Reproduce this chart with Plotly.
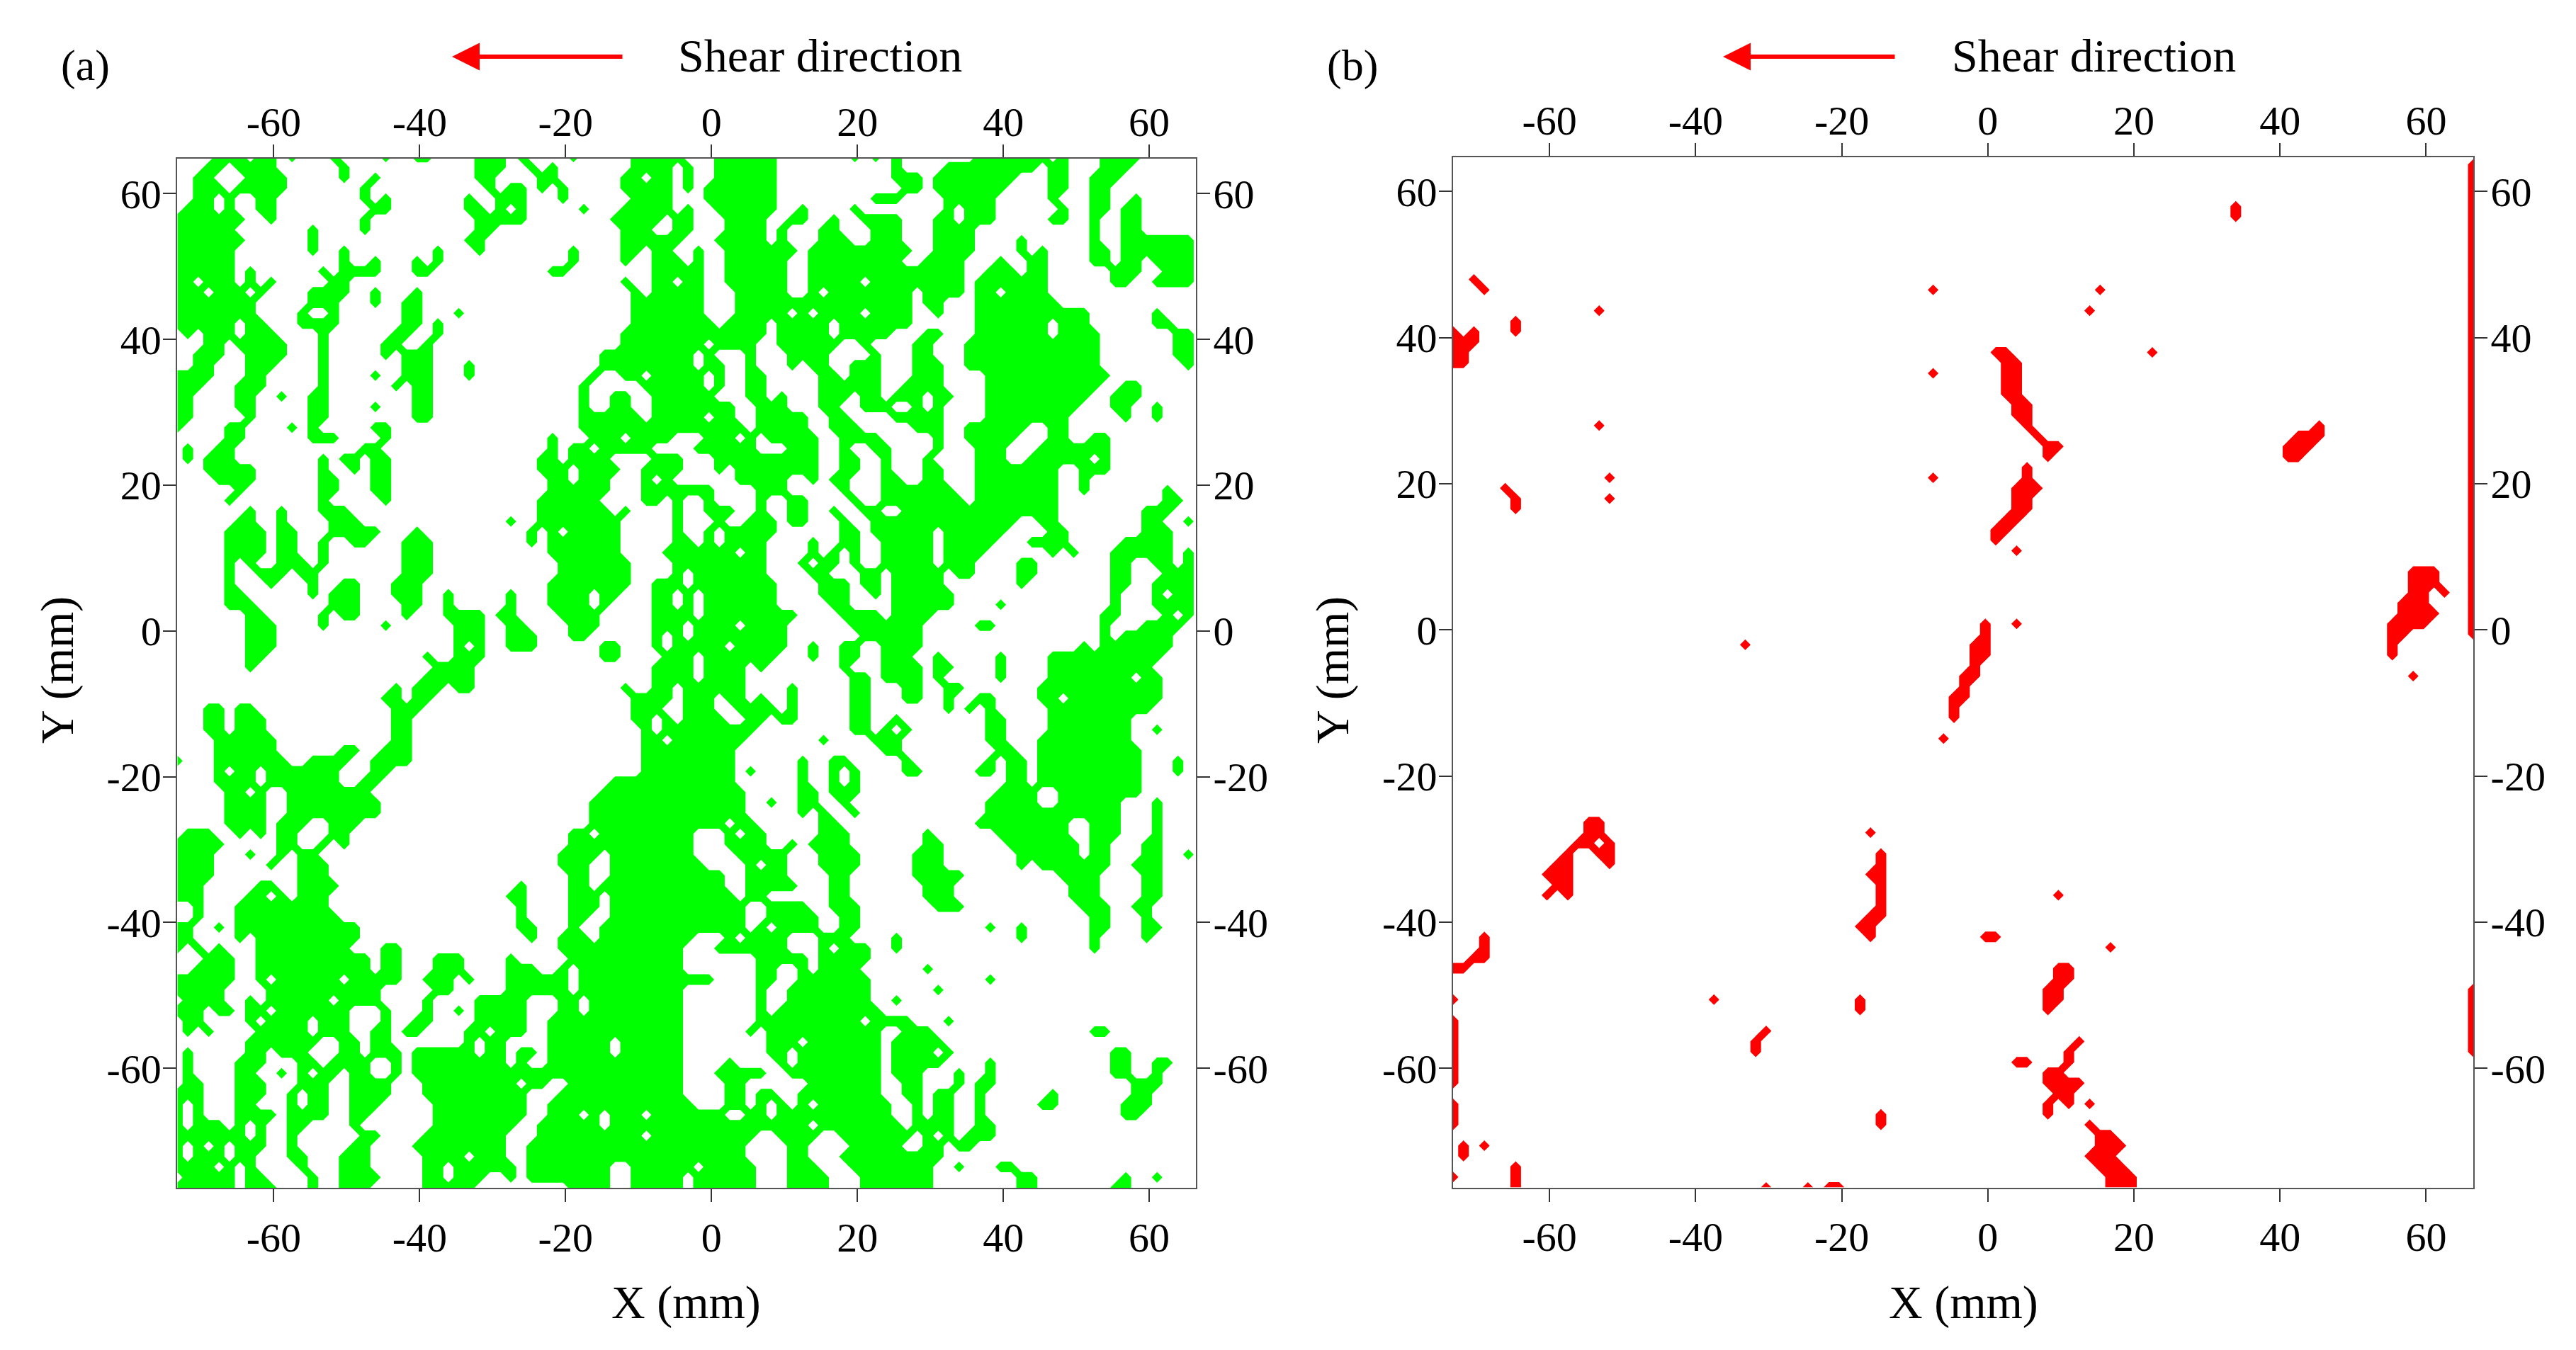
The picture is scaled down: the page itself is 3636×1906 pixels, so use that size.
import plotly.graph_objects as go

W, H = 3636, 1906
STEP = 10 / 7
NX, NY = 99, 100
TICKS = [-60, -40, -20, 0, 20, 40, 60]
TICK_TEXT = ["-60", "-40", "-20", "0", "20", "40", "60"]
X0_A, Y0_A = -73.2, -76.4
X0_B, Y0_B = -73.2, -76.3

# Panel (a): lattice cells above threshold, one string per row, top row first
A_RUNS = [
"4-6 8-9 11 15 20 23-24 29-31 33 38 44-47 48 52-57 65 67 69 77-83 85 89-92",
"3-4 6-9 16 29-31 34 36 44-47 49 52-57 69 74-82 84-85 89-91",
"2-3 7-10 16 19 29-30 35-36 43-44 46-47 49 52-57 69-71 73-80 84-85 88-90",
"2-4 6-10 18 30 32-33 35 37 43-47 49 51-57 70-71 73-79 84-85 88-89",
"2-3 5 8-9 18 20 28 31-33 37 44-47 51-57 67-69 74-78 84 88-89 92",
"1-3 5 8-9 19-20 28-29 31 33 39 43-47 49 52-57 60 65 74 76-78 85 88-89 91-92",
"0-6 9 18 29-33 42-46 48-49 53-56 59-60 63 66-69 73-74 76-78 84-85 88 91-92",
"0-5 13 18 29-30 43-45 48-49 53-56 58 62-63 67-69 73-76 88 91-92",
"0-6 13 28-29 43-48 52-56 58 62-64 67-69 73-76 81 88 91-97",
"0-5 13 16 25 29 38 43-44 46-47 50 53-59 61-70 73-76 81 83 88-89 91-97",
"0-5 16 19 23 25 38 43 46-48 50 53-58 61-69 72-75 79 82-83 88-89 91-92 94-97",
"0-5 7 14 16-19 23-24 36-37 46-50 53-58 61-75 78-80 82-83 90-92 95-97",
"0-1 3-5 7 9 15-16 43 46-47 49-50 53-58 61-65 67-75 77-83 90-91 94-97",
"0-2 4-6 8 13-16 19 23 44 46-50 54-58 61 63-70 72-75 77-78 80-83",
"0-7 13-15 19 22-23 44-50 54-70 72-73 77-84",
"0-7 12 15 22-23 27 44-50 54-58 60 62-65 67-70 73 77-87 94",
"0-5 7-8 12-15 22-23 25 44-51 53-56 58-62 64-70 77-83 85-87 94-95",
"1 3-5 7-9 14 21-22 25 43-56 58-62 64-68 72-73 77-83 85-88 96-97",
"3-4 6-10 14 20-21 24 43-50 52-55 58-63 66 71-72 76-88 96-97",
"2-4 7-10 14 20 22-24 41-49 51 55 59-62 67 71-72 76-88 96-97",
"2-3 7-9 14 22-24 28 41-49 51-52 55 59 61-62 65-67 71-73 76-88 97",
"0-3 7-8 14 19 22-24 28 40 43-44 46-50 52 55-56 62-63 65-67 71-73 78-89",
"0-2 6-8 14 21 23-24 39 45-50 52 55-56 62-67 70-73 78-88 91-92",
"0-1 6-7 10 13-14 23-24 39 42-43 46-51 55-56 58 62-64 66-67 69-71 73-74 78-87 90-92",
"0-1 6-7 13-14 19 23-24 39 42-43 46-53 56-58 62-63 66-68 71 73 78-86 90-91 94",
"0-1 7 13-14 23-24 39-44 46-50 52-53 56-60 63-64 69-73 78-85 91 94",
"0 5-6 11 13 19-20 39-54 56-60 63-65 71-73 76-81 84-85",
"5-6 13-15 20 36 40-42 44-47 51-53 55 57-61 64-67 73 76-80 84-85 88-89",
"1 4-5 18-19 36 38-39 41-45 50-55 59-61 64 67-68 73 77-79 83-89",
"1 3-5 14 16-17 19-20 35-36 38-41 46-48 52-61 64-65 68 72 77-79 82-87 89",
"3-7 14 17 19-20 35-37 39-42 45-48 52 54-61 64-65 68 72-73 77-84 87-89",
"4-7 14-15 19-20 36-37 39-41 45 47 54-58 61 63-64 68-69 72-73 77-84 87",
"6 14-15 19-20 36-41 45-51 56-58 64 68-74 77-84 87 95",
"5 14 20 35-40 45-46 48 51 56 59-60 65 68-75 77-84 95-96",
"7 10 14-16 35-41 43 48 51-53 56 59-60 63 66-67 70-84 93-95",
"6-7 10 15-17 32 35-42 48 52 55-57 59-60 64 67-80 83-84 93-94 97",
"5-8 10-11 15-19 23 34 36 38-42 48 51 53-57 64-65 67-72 74-79 84-85 93-95",
"5-8 10-11 14 17-18 22-24 34 36-42 48-49 51 53-56 61 64-65 68-72 74-78 82-85 91-95",
"5-8 10-11 14 22-24 36-42 47-53 55-56 61 63 65 68-72 74-77 84 86 90-95 97",
"5 7 10-12 14 22-24 37-43 48-56 60 62-63 65 68-72 74-76 81-82 90-91 94-95 97",
"5 8-10 12-13 22-24 37-43 48 50-56 61-62 66-67 69-73 75-76 81-82 90-91 95-97",
"5 9 13 16-17 21-23 36-43 46-48 50-57 62-64 66-67 69-73 81 90-91 94-97",
"5-6 13 15-17 21-23 26 32 36-39 41-42 46-47 49 51-57 62-64 67 69-74 90 94 96-97",
"5-7 15-17 22-23 26 32 36-39 41 46-47 49 51-57 63-64 69-74 79 90 94-97",
"7-8 14 16-17 22 26-29 31-32 37-40 46-49 51-59 64-67 69-72 89-90 95 97",
"7-9 14 20 27-29 32-33 38-40 46-48 50-53 55-58 65-71 77-78 89 93-96",
"7-9 27-29 32-34 38-39 46 48 50-58 66-71 89 91-95",
"7-9 27 29 32-34 41-42 46 48-52 54-58 61 64-65 68-71 87 89-95",
"7-8 24 27-29 41-42 47-49 51-57 61 64-65 68-70 73 79 84-94",
"7 25-28 46-49 51-54 56 64 68-71 73-74 79 84-93",
"24-28 46-49 51-54 65-66 68-71 73 79 84-91 93-94",
"21 23-25 27-28 43 46-47 49-54 59 65-66 70-71 74-75 83-94",
"20-21 23-24 44-47 49-51 53-54 56 59 65-66 70-71 74 77-78 83-84 86-94",
"3-4 6-7 21-23 44-46 49-51 54-57 59 65-66 74 76 78 84-93",
"3-4 6-8 21-22 44-45 47 49-52 55-56 58-59 65-66 69 78-79 84-91",
"3-4 6-8 21-22 45 47-55 65-66 68 70 78-79 84-91 94",
"4-9 21-22 45-46 48-54 62 67-69 78-79 83-91",
"4-9 16-17 20-22 45-53 68-69 79-80 83-92",
"0 4-10 13-16 19-22 45-53 60 63-64 70 78 80-81 83-92 96",
"4 6-7 9-15 19-20 45-53 55 60 63 65 70-71 77-78 80-81 83-92 96",
"4-7 9-15 18-19 42-53 60 63 65 80-81 83-92",
"5-6 8 11-18 41-54 60-61 63-65 79-82 85-92",
"5-8 11-19 40-54 57 60-61 64 78-82 85-90 94",
"5-8 11-19 40-54 60 62 65 78-90 94",
"5-8 10-12 15-17 40-52 54-55 62-63 77-85 88-90 94",
"1-3 6 8 10-11 15-16 38-39 41-49 53 55-56 62-64 72 79-85 88-90 94",
"0-4 10-11 14 16 38-49 53-56 59 61-64 72-73 80-86 88-89 93-94",
"0-3 7 10 12-13 37-40 42-49 54-58 62-65 71-73 81-86 88-89 93-94 97",
"0-3 9 12-14 37-39 42-50 55 57-58 62-65 71-73 81 83-89 92-94",
"0-3 12-14 38-39 42-52 55-58 63-64 71-75 85-88 93-94",
"0-2 8-9 12-15 33 38-39 41-52 55-59 63-64 72-74 86-88 93-94",
"0-2 7-8 10 12-14 32-33 38-40 42-53 55-56 63-64 72-74 86-88 93-94",
"2 6-14 33 38-40 42-54 57-60 63-65 73-75 87-89 92-93",
"2 6-15 33 38-39 42-54 57-61 64-65 88-89 93",
"0-1 4 6-17 33-34 38 41-54 56 58-61 64-65 78 81 88-89 93-94",
"0-1 6 8-17 34 37-39 41-49 53 55-58 62-64 69 81 88 93",
"0 2 4 8-16 20-21 37-48 52-58 62 64-66 69 88",
"3-5 8-18 20-21 25-27 32 38-48 56-60 62-66",
"2-5 8-18 20-21 25-27 32-34 37 39-48 56-57 60 62-65 72",
"0-5 8 10-15 17-21 24-26 28 32-37 39-51 56-57 60-66 78",
"0-4 9-19 25-26 32-37 39-48 56 59-66 73",
"1-4 7 9-14 16-19 24 29-33 37-38 40-48 56 59-66 69",
"0-2 4-5 7-8 10-16 20 24 27 29-33 37-38 40-48 56 58-67",
"1-2 7 9-12 14-16 20 23-24 29-33 36-48 56-65 67-70 74",
"1 3 8-12 14-16 19-20 22-23 28-29 31-33 36-48 55 57-67 70-72 88-89",
"7-13 16-17 19-20 28 30-31 36-41 43-48 57-59 61-67 69-73",
"1 7-8 10-12 16-17 19-21 23-28 30-31 33-34 36-41 43-48 57-58 60-67 69-72 74 90-91",
"1 6-8 12-13 15-18 21 23-31 33 36-48 53 58 60-67 69-73 78 90-91 94-95",
"1 6-7 10 12 14-15 17-18 21 23-48 52-56 59-67 69-71 75 78 90-91 94",
"1-2 6-8 12-14 17-20 24-32 34-35 38-48 53-54 61-67 70-71 75 77-78 92-94",
"0-2 6-8 11 13-14 17-20 24-33 37-48 53-54 56-57 60-67 70-71 73-74 77 84 92-93",
"0 2 6-7 11 13-14 17-19 25-33 36-49 53-54 56 58 60 62-68 71 73-74 77 83-84 91-93",
"0 2 6-9 11-14 17-18 25-33 36-38 40 42-44 46-52 55-56 58-68 71 73-74 77 91-92",
"0 2-4 6 8 11-12 17 25-32 35-40 42-60 62-69 71-74 77-78",
"0-6 8 11 18-19 24-31 35-44 46-55 58-61 64-70 72 74 76-78",
"0 2 4 6-8 11 17-18 23-31 34-54 59-60 65-69 72-73 75-76",
"0 2-4 6-7 11-12 16-18 24-27 29-31 34-54 59-60 64-73",
"0-3 5 7 12 16-18 24-25 27-32 34-41 44-49 51-55 59-61 65-72 75 79-80",
"1-5 7-8 13 16-19 24-25 27-29 32 34-41 44-48 50-55 59-62 66-72 81-82 91 94",
"0-5 7-9 13 16-18 24-28 38-41 44-48 50-55 59-62 66-72 81-82 90-91",
]

# Panel (b): row index from the bottom -> cells above threshold
B_ROW_INDEX = [94, 93, 87, 86, 84, 83, 82, 81, 80, 79, 78, 77, 76, 75, 74, 73, 72, 71, 70, 69, 68, 67, 66, 65,
               64, 63, 62, 61, 59, 58, 57, 56, 55, 54, 53, 52, 51, 50, 49, 48, 47, 46, 45, 43, 35, 34, 33, 32,
               31, 30, 29, 28, 27, 26, 25, 24, 23, 22, 21, 20, 19, 18, 17, 15, 14, 13, 12, 11, 10, 9, 8, 7, 6,
               5, 4, 3, 2, 1, 0]
B_ROW_RUNS = ["75", "75", "2", "3 46 62", "14 61", "6", "0 2 6", "0-2", "0-1 52-53 67", "0-1 53-54", "46 53-54",
              "53-54", "53-54", "54-55", "54-55", "14 55 83", "56 81-83", "57-58 80-82", "57 80-81", "55",
              "15 46 55", "5 54-56", "6 15 54-55", "6 54-55", "53-54", "52-53", "52", "54", "92-94", "92-94",
              "92-93 95", "91-93", "91-94", "51 54 90-93", "51 90-91", "28 50-51 90", "50-51 90", "50", "49-50 92",
              "49", "48-49", "48", "48", "47", "13-14", "13-14 40", "12-13 15", "11 14-15 41", "10-11 15 41",
              "9-11 40-41", "10-11 41", "9 11 41 58", "41", "40-41", "39-40", "3 40 51-52", "3 63", "2-3",
              "0-1 58-59", "58-59", "57-58", "0 25 39 57-58", "39 57", "30", "29 60", "29 59", "59 54-55",
              "57-58", "57-60", "58-59", "57 59 61", "41 57", "41 61", "62-63", "1 3 62-64", "1 61-63", "6 62-64",
              "0 6 63-65", "6 30 34 36-37 63-65"]
# Edge columns: column, first row, last row, value
B_COLUMNS = [(98, 53, 98, 2), (98, 13, 19, 2), (0, 10, 16, 1), (0, 6, 8, 1)]


def cells(text):
    out = []
    for part in text.split():
        if "-" in part:
            a, b = part.split("-")
            out.extend(range(int(a), int(b) + 1))
        else:
            out.append(int(part))
    return out


z_a = [[0] * NX for _ in range(NY)]
for k, text in enumerate(A_RUNS):
    for c in cells(text):
        z_a[NY - 1 - k][c] = 1
z_b = [[0] * NX for _ in range(NY)]
for row, text in zip(B_ROW_INDEX, B_ROW_RUNS):
    for c in cells(text):
        z_b[row][c] = 1
for col, r0, r1, val in B_COLUMNS:
    for r in range(r0, r1 + 1):
        z_b[r][col] = val


def contour(z, x0, y0, color, xa, ya):
    return go.Contour(
        x=[x0 + i * STEP for i in range(NX)], y=[y0 + j * STEP for j in range(NY)], z=z,
        xaxis=xa, yaxis=ya, zmin=0, zmax=1, showscale=False, hoverinfo="skip",
        autocontour=False, contours=dict(start=0.49, end=0.49, size=1, coloring="fill", showlines=False),
        colorscale=[[0, "#ffffff"], [0.49, "#ffffff"], [0.49, color], [1, color]],
        line=dict(width=0, smoothing=0),
    )


fig = go.Figure()
fig.add_trace(contour(z_a, X0_A, Y0_A, "#00ff00", "x", "y"))
fig.add_trace(contour(z_b, X0_B, Y0_B, "#ff0000", "x2", "y2"))
fig.add_trace(go.Scatter(x=[None], y=[None], xaxis="x3", yaxis="y3", showlegend=False))
fig.add_trace(go.Scatter(x=[None], y=[None], xaxis="x4", yaxis="y4", showlegend=False))

FONT = "Liberation Serif"
LINE = "#555555"


def axis(rng, domain, standoff, **kw):
    return dict(range=rng, domain=domain, tickmode="array", tickvals=TICKS, ticktext=TICK_TEXT, ticks="outside",
                ticklen=18, tickwidth=2, tickcolor="#333333", showgrid=False, zeroline=False, fixedrange=True,
                showline=True, linecolor=LINE, linewidth=2, ticklabelstandoff=standoff,
                tickfont=dict(family=FONT, size=58, color="#000000"), **kw)


def panel(xr, yr, left, right, top, bottom, x, y, x_top, y_right):
    dx = [left / W, right / W]
    dy = [1 - bottom / H, 1 - top / H]
    xref, yref = "x" + x[5:], "y" + y[5:]
    return {
        x: axis(xr, dx, 0, side="bottom", anchor=yref, mirror=True),
        y: axis(yr, dy, -9, side="left", anchor=xref, mirror=True),
        x_top: axis(xr, dx, -11, side="top", anchor=yref, overlaying=xref),
        y_right: axis(yr, dy, -7, side="right", anchor=xref, overlaying=yref),
    }


layout_axes = {}
layout_axes.update(panel([-73.2, 66.4], [-76.4, 64.8], 250.4, 1688, 224, 1677, "xaxis", "yaxis", "xaxis3", "yaxis3"))
layout_axes.update(panel([-73.2, 66.45], [-76.3, 64.7], 2051, 3491, 222, 1676.5, "xaxis2", "yaxis2", "xaxis4", "yaxis4"))


def text(s, px, py, size, xanchor="center", angle=0):
    return dict(text=s, x=px / W, y=1 - py / H, xref="paper", yref="paper", showarrow=False, xanchor=xanchor,
                yanchor="middle", textangle=angle, font=dict(family=FONT, size=size, color="#000000"))


def arrow(tip, tail, py):
    return dict(text="", x=tip / W, y=1 - py / H, xref="paper", yref="paper", ax=tail - tip, ay=0, axref="pixel",
                ayref="pixel", showarrow=True, arrowhead=2, arrowsize=1.3, arrowwidth=6, arrowcolor="#ff0000")


annotations = [
    text("(a)", 121, 93, 62), text("(b)", 1909, 93, 62),
    text("Shear direction", 955, 79, 66, "left"), text("Shear direction", 2753, 79, 66, "left"),
    text("X (mm)", 969, 1839, 66), text("X (mm)", 2771, 1839, 66),
    text("Y (mm)", 81, 946, 66, angle=-90), text("Y (mm)", 1881, 946, 66, angle=-90),
    arrow(638, 880, 80), arrow(2432, 2676, 80),
]

fig.update_layout(width=W, height=H, margin=dict(l=0, r=0, t=0, b=0), paper_bgcolor="#ffffff", plot_bgcolor="#ffffff",
                  showlegend=False, annotations=annotations, **layout_axes)
fig.write_html("out.html", config={"displayModeBar": False}, post_script="document.body.style.margin='0';")
